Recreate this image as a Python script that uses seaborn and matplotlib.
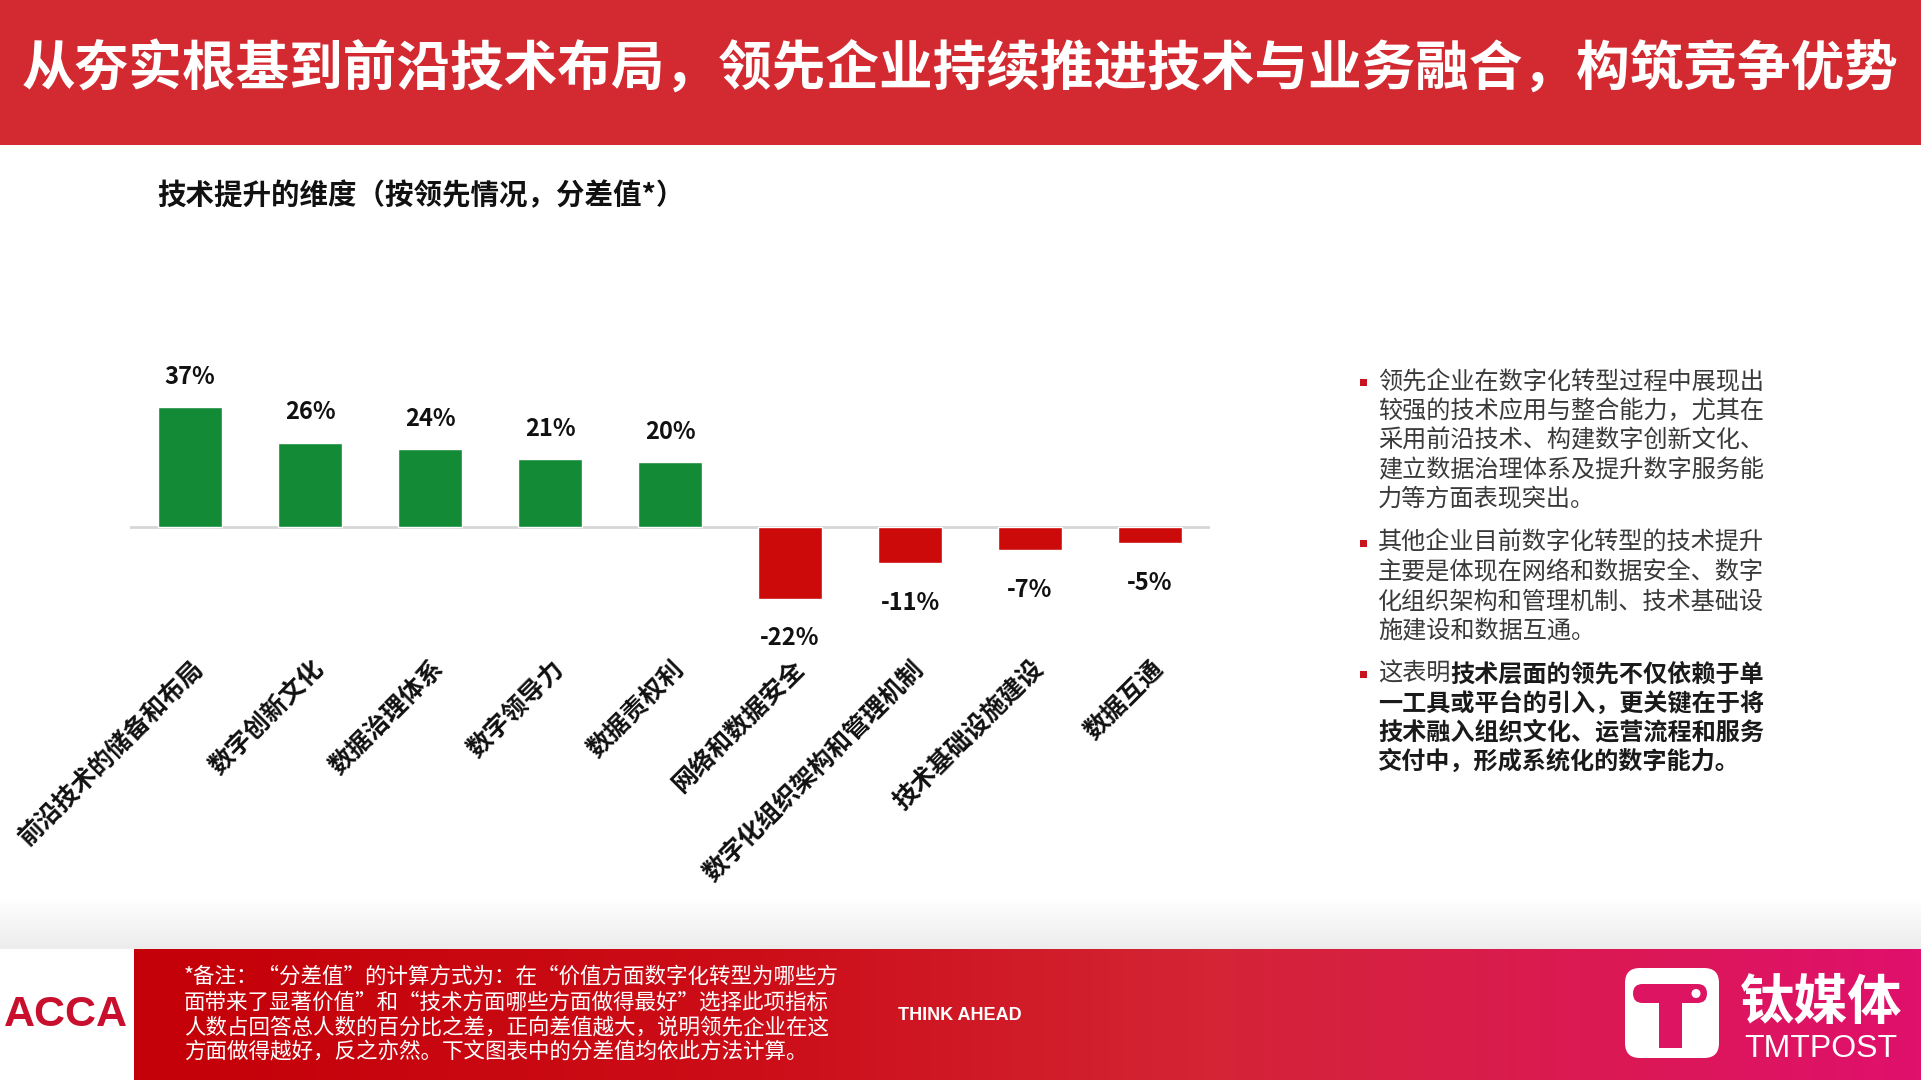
import numpy as np
import matplotlib
matplotlib.use('Agg')
import matplotlib.pyplot as plt
from matplotlib.patches import Rectangle, FancyBboxPatch, Circle
from matplotlib.colors import LinearSegmentedColormap
from matplotlib.transforms import ScaledTranslation
import seaborn as sns

# ---- data ----
categories = ['前沿技术的储备和布局', '数字创新文化', '数据治理体系', '数字领导力', '数据责权利',
              '网络和数据安全', '数字化组织架构和管理机制', '技术基础设施建设', '数据互通']
values = [37, 26, 24, 21, 20, -22, -11, -7, -5]

title = '从夯实根基到前沿技术布局，领先企业持续推进技术与业务融合，构筑竞争优势'
subtitle = '技术提升的维度（按领先情况，分差值*）'

para1 = ['领先企业在数字化转型过程中展现出', '较强的技术应用与整合能力，尤其在',
         '采用前沿技术、构建数字创新文化、', '建立数据治理体系及提升数字服务能',
         '力等方面表现突出。']
para2 = ['其他企业目前数字化转型的技术提升', '主要是体现在网络和数据安全、数字',
         '化组织架构和管理机制、技术基础设', '施建设和数据互通。']
para3_head = '这表明'
para3 = ['技术层面的领先不仅依赖于单', '一工具或平台的引入，更关键在于将',
         '技术融入组织文化、运营流程和服务', '交付中，形成系统化的数字能力。']

note_lines = ['*备注：“分差值”的计算方式为：在“价值方面数字化转型为哪些方',
              '面带来了显著价值”和“技术方面哪些方面做得最好”选择此项指标',
              '人数占回答总人数的百分比之差，正向差值越大，说明领先企业在这',
              '方面做得越好，反之亦然。下文图表中的分差值均依此方法计算。']

green = '#138A36'
red = '#CC0A0A'

W, H = 1921, 1080
sns.set_theme(style='white')
plt.rcParams['font.family'] = ['Noto Sans CJK SC', 'DejaVu Sans']

fig = plt.figure(figsize=(W / 100, H / 100), dpi=100)
fig.patch.set_facecolor('white')

# background layer in pixel coords
bg = fig.add_axes([0, 0, 1, 1], zorder=0)
bg.axis('off')
bg.add_patch(Rectangle((0, 0), W, 145, color='#D22A30', lw=0))
gray = LinearSegmentedColormap.from_list('gr', ['#FFFFFF', '#ECECEC'])
bg.imshow(np.linspace(0, 1, 60).reshape(-1, 1), extent=[0, W, 949, 898], cmap=gray, aspect='auto')
foot = LinearSegmentedColormap.from_list('ft', [(0, '#C40008'), (0.35, '#CC0E18'), (0.6, '#D42535'), (1, '#E0106C')])
bg.imshow(np.linspace(0, 1, 500).reshape(1, -1), extent=[134, W, 1080, 949], cmap=foot, aspect='auto')

# tmtpost logo
bg.add_patch(FancyBboxPatch((1625, 968), 94, 90, boxstyle='round,pad=0,rounding_size=15', fc='white', ec='none'))
bg.add_patch(FancyBboxPatch((1633, 984), 74, 19, boxstyle='round,pad=0,rounding_size=9.5', fc='#DC1462', ec='none'))
bg.add_patch(Rectangle((1659, 990), 23, 58, fc='#DC1462', ec='none'))
bg.add_patch(Circle((1696, 993.5), 4.5, fc='white', ec='none'))

# bullets
for by in [383, 544, 675]:
    bg.add_patch(Rectangle((1360, by - 4), 7, 7, fc='#C8141C', ec='none'))

bg.set_xlim(0, W)
bg.set_ylim(H, 0)

# ---- chart ----
ax = fig.add_axes([130 / W, 1 - 624.5 / H, 1080 / W, 260 / H], zorder=2)
ax.patch.set_alpha(0)
colors = [green if v > 0 else red for v in values]
sns.barplot(x=categories, y=values, hue=categories, palette=colors, saturation=1,
            width=0.53, legend=False, ax=ax)
ax.axhline(0, color='#D6D6D6', lw=2, zorder=0)
ax.set_xlim(-0.5, 8.5)
ax.set_ylim(-30, 50)
for c in ax.containers:
    pad = 13 if c.datavalues[0] > 0 else 20
    ax.bar_label(c, labels=[f'{v:.0f}%' for v in c.datavalues], padding=pad,
                 fontsize=17, fontweight='bold', color='#111111')
ax.set_xticks(range(len(categories)))
ax.set_xticklabels(categories, rotation=45, ha='right', va='center', rotation_mode='anchor',
                   fontsize=18, fontweight='bold', color='#111111')
ax.tick_params(axis='x', length=0, pad=29)
for lab in ax.get_xticklabels():
    lab.set_transform(lab.get_transform() + ScaledTranslation(0.1, 0, fig.dpi_scale_trans))
ax.set_yticks([])
ax.set_xlabel('')
ax.set_ylabel('')
sns.despine(ax=ax, left=True, bottom=True)


def T(x, y, s, **kw):
    return fig.text(x / W, 1 - y / H, s, **kw)


T(960, 70, title, ha='center', va='center', fontsize=38.6, fontweight='bold', color='white')
T(157, 196, subtitle, ha='left', va='center', fontsize=20.5, fontweight='bold', color='#111111')

fs = 17.4
em = fs * 100 / 72
tx = 1378
for i, s in enumerate(para1):
    T(tx, 382 + i * 29.3, s, ha='left', va='center', fontsize=fs, color='#3A3A3A')
for i, s in enumerate(para2):
    T(tx, 543 + i * 29.3, s, ha='left', va='center', fontsize=fs, color='#3A3A3A')
T(tx, 674, para3_head, ha='left', va='center', fontsize=fs, color='#3A3A3A')
for i, s in enumerate(para3):
    x0 = tx + len(para3_head) * em if i == 0 else tx
    T(x0, 674 + i * 29.3, s, ha='left', va='center', fontsize=fs, fontweight='bold', color='#1A1A1A')

# footer
T(66, 1015, 'ACCA', ha='center', va='center', fontsize=31, fontweight='bold',
  family='Liberation Sans', color='#C8102E')
for i, s in enumerate(note_lines):
    T(184, 977 + i * 25.2, s, ha='left', va='center', fontsize=15.5, color='white', style='italic')
T(960, 1015, 'THINK AHEAD', ha='center', va='center', fontsize=13, fontweight='bold',
  family='Liberation Sans', color='white')
T(1821, 1004, '钛媒体', ha='center', va='center', fontsize=39, fontweight='bold', color='white')
T(1821, 1049, 'TMTPOST', ha='center', va='center', fontsize=23, family='Liberation Sans', color='white')

fig.savefig('out.png', dpi=100)
